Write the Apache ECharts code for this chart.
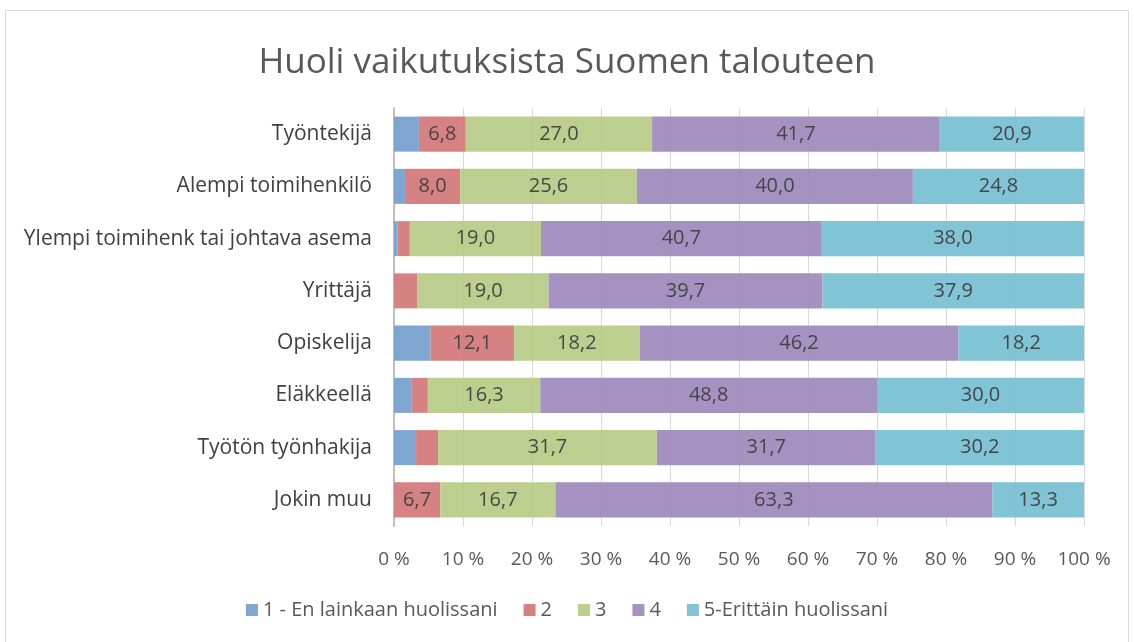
<!DOCTYPE html>
<html>
<head>
<meta charset="utf-8">
<script src="https://cdn.jsdelivr.net/npm/echarts@6/dist/echarts.min.js"></script>
<style>
  html, body { margin: 0; padding: 0; background: #fff; }
  #frame { position: absolute; left: 5px; top: 10px; width: 1124px; height: 640px; border: 1px solid #d9d9d9; box-sizing: border-box; }
  #chart { width: 1134px; height: 642px; }
</style>
</head>
<body>
<div id="frame"></div>
<div id="chart"></div>
<script>
  // rivit ylhäältä alas
  const categories = ['Työntekijä', 'Alempi toimihenkilö', 'Ylempi toimihenk tai johtava asema', 'Yrittäjä', 'Opiskelija', 'Eläkkeellä', 'Työtön työnhakija', 'Jokin muu'];
  const seriesNames = ['1 - En lainkaan huolissani', '2', '3', '4', '5-Erittäin huolissani'];
  const v1 = [3.6, 1.6, 0.5, 0, 5.3, 2.5, 3.2, 0];
  const v2 = [6.8, 8.0, 1.8, 3.4, 12.1, 2.4, 3.2, 6.7];
  const v3 = [27.0, 25.6, 19.0, 19.0, 18.2, 16.3, 31.7, 16.7];
  const v4 = [41.7, 40.0, 40.7, 39.7, 46.2, 48.8, 31.7, 63.3];
  const v5 = [20.9, 24.8, 38.0, 37.9, 18.2, 30.0, 30.2, 13.3];
  const colors = ['#779fce', '#d47a7a', '#b8cc88', '#a08bbd', '#78c0d3'];

  const values = [v1, v2, v3, v4, v5];
  const font = '"Open Sans", "Noto Sans", sans-serif';

  const chart = echarts.init(document.getElementById('chart'));
  chart.setOption({
    animation: false,
    textStyle: { fontFamily: font },
    title: {
      text: 'Huoli vaikutuksista Suomen talouteen',
      left: 'center',
      top: 41,
      textStyle: { fontSize: 35, fontWeight: 'normal', color: '#595959', fontFamily: font }
    },
    legend: {
      bottom: 17,
      left: 'center',
      itemWidth: 12,
      itemHeight: 12,
      itemGap: 26,
      icon: 'rect',
      textStyle: { fontSize: 20, color: '#595959' },
      data: seriesNames
    },
    grid: { left: 394, right: 50, top: 108, bottom: 116 },
    xAxis: {
      type: 'value',
      min: 0,
      max: 100,
      interval: 10,
      axisLine: { show: false },
      axisTick: { show: false },
      axisLabel: { formatter: '{value} %', fontSize: 19, color: '#595959', margin: 24 },
      splitLine: { lineStyle: { color: '#d9d9d9' } }
    },
    yAxis: {
      type: 'category',
      inverse: true,
      data: categories,
      axisLine: { lineStyle: { color: '#bfbfbf', width: 2 } },
      axisTick: { show: false },
      axisLabel: { fontSize: 21, color: '#404040', margin: 22 }
    },
    series: seriesNames.map((name, i) => ({
      name: name,
      type: 'bar',
      stack: 'total',
      barCategoryGap: '33%',
      data: values[i],
      itemStyle: { color: colors[i], opacity: 0.94 },
      label: {
        show: true,
        position: 'inside',
        fontSize: 20,
        color: '#404040',
        formatter: p => p.value >= 6 ? p.value.toFixed(1).replace('.', ',') : ''
      }
    }))
  });
</script>
</body>
</html>
